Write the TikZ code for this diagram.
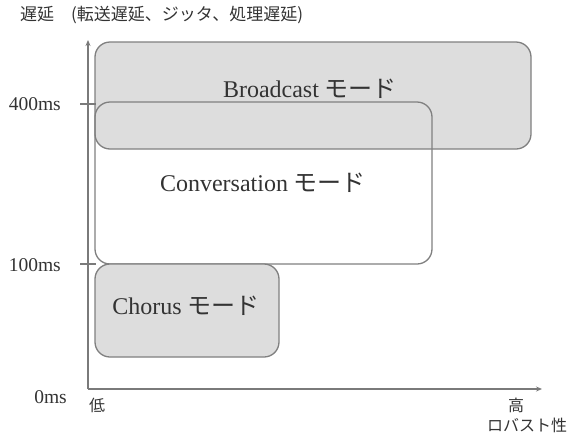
\documentclass[tikz,border=0pt]{standalone}
\usepackage{fontspec}
\setmainfont{Liberation Serif}
\newfontfamily\jp{Noto Sans CJK JP}
\usetikzlibrary{arrows.meta}
\definecolor{boxfill}{HTML}{DDDDDD}
\definecolor{boxline}{HTML}{808080}
\definecolor{axisline}{HTML}{7A7A7A}
\definecolor{txt}{HTML}{333333}
\tikzset{
  modebox/.style={draw=boxline, line width=1.3pt, rounded corners=15pt, inner sep=0pt},
  modelabel/.style={text=txt, font=\fontsize{24}{26}\selectfont, inner sep=0pt},
  ticklabel/.style={text=txt, font=\fontsize{19.5}{21}\selectfont, inner sep=0pt},
  jplabel/.style={text=txt, font=\jp\fontsize{16}{18}\selectfont, inner sep=0pt},
  axis/.style={draw=axisline, line width=1.2pt, -{Stealth[length=6pt,width=5pt]}},
  tick/.style={draw=axisline, line width=1.2pt}
}
\begin{document}
\begin{tikzpicture}[x=1pt,y=-1pt]
\useasboundingbox (0,0) rectangle (571,437);
% boxes
\node[modebox, fill=boxfill, minimum width=436pt, minimum height=107pt] (broadcast) at (313,95.5) {};
\node[modelabel] (blabel) at (310,89) {Broadcast {\jp モード}};
\node[modebox, minimum width=337pt, minimum height=162pt] (conversation) at (263.5,183) {};
\node[modelabel] (clabel) at (263,183) {Conversation {\jp モード}};
\node[modebox, fill=boxfill, minimum width=184pt, minimum height=93pt] (chorus) at (187,310.5) {};
\node[modelabel] (chlabel) at (186,306) {Chorus {\jp モード}};
% axes
\coordinate (origin) at (88,389);
\coordinate (ytop) at (88,40);
\coordinate (xend) at (542,389);
\draw[axis] (origin) -- (ytop);
\draw[axis] (origin) -- (xend);
% ticks
\coordinate (t4a) at (80,104); \coordinate (t4b) at (96,104);
\coordinate (t1a) at (80,264); \coordinate (t1b) at (96,264);
\draw[tick] (t4a) -- (t4b);
\draw[tick] (t1a) -- (t1b);
% labels
\node[ticklabel, anchor=east] (l400) at (61,104) {400ms};
\node[ticklabel, anchor=east] (l100) at (61,265) {100ms};
\node[ticklabel, anchor=east] (l0) at (67,397) {0ms};
\node[jplabel] (low) at (97,405) {低};
\node[jplabel] (high) at (516,405) {高};
\node[jplabel] (robust) at (527,425) {ロバスト性};
\node[jplabel, font=\jp\fontsize{17}{19}\selectfont, anchor=west] (title) at (20,15) {遅延\quad (転送遅延、ジッタ、処理遅延)};
\end{tikzpicture}
\end{document}
